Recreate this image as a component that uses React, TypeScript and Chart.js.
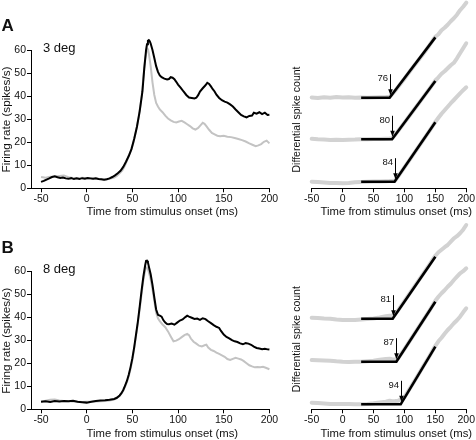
import React, { useEffect, useRef } from "react";
import { Chart, registerables } from "chart.js";
Chart.register(...registerables);

const FONT = "'Liberation Sans', Arial, Helvetica, sans-serif";

// ---------- tick labels ----------
const xTickValues = [-50, 0, 50, 100, 150, 200];
const yTickValues = [0, 10, 20, 30, 40, 50, 60];

// ---------- Panel A, left: firing rate (3 deg) ----------
const blackTimeA = [-50,-47,-44,-41,-38,-35,-32,-29,-26,-23,-20,-17,-14,-11,-8,-5,-2,1,4,7,10,13,16,19,22,25,28,31,34,37,40,43,46,49,52,55,58,61,63,65,66,67,68,69,70,72,74,76,78,80,82,85,88,90,92,94,96,98,100,103,106,109,112,115,118,120,122,124,127,130,132,134,136,138,140,142,145,148,151,154,157,160,163,166,169,172,175,178,181,183,186,189,192,195,198,200];
const blackRateA = [2.8,3.2,3.8,4.3,4.9,5.2,4.8,4.5,4.7,4.3,4.1,4.4,4.0,4.3,4.0,4.4,4.2,4.5,4.3,4.1,4.3,4.0,3.9,3.7,3.9,4.3,4.9,5.6,6.5,7.6,9.3,11.5,14,17,21.5,26.7,33.5,42,52,60,62.5,64,64.3,63.8,62.8,60,56.5,53,50.5,49,48.2,47.6,47.2,47.4,48.2,48,47.3,46.2,45,43.6,42,40.5,39.4,39.2,39,39.3,40.4,42,43.4,44.7,45.8,45.3,44.2,43,42,40.6,39.2,38.2,37.6,37.2,36.4,35.5,34.2,33,31.8,31.2,30.8,31.4,31.6,32.8,32.4,33,32.2,32.8,31.8,31.9];
const greyTimeA = [-50,-45,-40,-35,-30,-25,-20,-15,-10,-5,0,5,10,15,20,25,30,33,36,39,42,45,48,51,54,57,60,62,64,66,67,68,70,72,74,76,78,80,83,86,89,92,95,98,101,104,107,110,113,116,119,122,125,127,129,131,134,137,140,143,146,150,154,158,162,166,170,174,178,182,185,188,191,194,197,200];
const greyRateA = [4.9,4.6,5,5.1,5.3,5.5,4.8,4.5,4.3,4.6,4.4,4.3,4.1,3.9,3.8,4.1,4.7,5.4,6.5,7.8,10,13,16,19.5,25,31,39.5,48,56,60.7,60.5,58.5,53,46,40.5,37,35.5,34.2,33,31.5,30.3,29.5,28.8,28.6,29,29.3,28.6,27.8,27,26,25.5,26.2,27.5,28.4,28,27,25.4,24,23.4,22.8,22.6,22.8,22.4,22.2,21.8,21.4,20.9,20.3,19.5,18.8,18.3,18.6,19.2,20.2,20.7,19.5];

// ---------- Panel B, left: firing rate (8 deg) ----------
const blackTimeB = [-50,-45,-40,-35,-30,-25,-20,-15,-10,-5,0,5,10,15,20,25,30,33,36,38,40,42,44,46,48,50,52,54,56,58,60,62,64,65,66,67,68,70,72,74,76,78,80,82,84,86,88,90,93,96,99,102,105,108,110,112,115,118,121,124,127,130,133,136,139,142,145,147,150,153,156,159,162,165,168,171,174,177,180,183,186,189,192,195,198,200];
const blackRateB = [3.3,3.5,3.2,3.6,3.4,3.6,3.5,3.7,3.3,3.1,2.9,3.3,3.6,3.8,3.9,4.1,4.5,5.0,6.0,7.0,8.4,10.3,12.3,15,18.3,22.2,27,32.5,38,44.5,51.3,57.5,62.5,64.4,64.5,63.7,62,58.6,54,48.5,43.3,41,40.6,40.2,38.6,37.6,37,36.9,37.2,36.7,37.6,38.5,39,40,40.6,40.2,39.7,39.2,39.4,38.8,39.5,39.1,38.2,37.4,36.5,35.8,35.3,34,32.4,31.4,30.8,30,29.5,29.2,28.6,28.2,28.7,28.5,28,27.2,26.6,26.4,26.1,26.3,26,25.9];
const greyTimeB = [-50,-45,-40,-35,-30,-25,-20,-15,-10,-5,0,5,10,15,20,25,30,33,36,38,40,42,44,46,48,50,52,54,56,58,60,62,64,65,66,67,68,70,72,74,76,78,80,83,86,89,92,95,98,101,104,107,110,112,114,117,120,123,126,129,131,133,136,139,142,145,148,151,154,157,160,163,166,169,172,175,178,181,184,187,190,193,196,198,200];
const greyRateB = [3.3,3.7,4.1,4.3,3.8,3.6,3.5,3.4,3.3,3.2,3.3,3.3,3.4,3.5,3.6,3.8,4.2,4.8,5.8,6.8,8,9.8,11.8,14.3,17.5,21.5,26.3,31.8,37.3,43.5,49.9,56,60.3,61.5,61.6,60.8,59.5,56.4,52,47,41.9,39.5,38.2,36.8,35.6,33.8,31.6,29.5,29.8,30.4,31.3,32.2,32.7,32.2,30.7,29.3,28.5,27.6,27.3,27.8,28,26.8,25.8,25.3,24.6,24,23.4,22.8,21.8,21.4,21.9,22.3,22,21.6,20.9,20,19.1,18.6,18.2,18.3,18.2,18.4,18,17.7,17.4];

// ---------- Right panels: differential spike count ----------
const countTime = [-50,-40,-30,-20,-10,0,10,20,30,40,50,60,70,76,80,85,90,100,110,120,130,140,150,155,160,165,170,175,180,185,190,195,200];
const countA1 = [0.3,-0.3,0.4,0,0.6,0.2,0.4,0,0.2,0,0.3,0.4,0.6,1,3.4,7,11,19,27.5,35.5,43.5,52,61,63.5,67.5,70,73,76.5,79.5,83,87.5,91,95];
const countA2 = [0.5,0,-0.3,-0.6,-0.5,-0.8,-0.4,-0.3,0,0,0.2,0.3,0.6,0.8,1.2,4.5,8.5,16.7,25,33.3,41.7,50,58.8,62,65.5,68,71,74,76.5,81,86,91,96];
const countA3 = [0,-0.4,-0.8,-1.2,-1.4,-1.6,-1.2,-0.6,-0.2,0,0.2,0.3,0.5,0.6,0.8,1.2,5.4,14.4,23.4,32.4,41.4,50.4,59.8,64,68,71.5,75,78.5,81.7,85,88.4,91.5,94.4];
const countB1 = [1,0.8,0.3,0,-0.8,-1.3,-1.3,-1.2,-0.8,-0.3,0.3,1.2,2.5,3,3.2,4.6,8.5,17.5,26.5,35.5,44.5,53.5,63,66.5,69,71.5,73.7,77,80.4,82.5,85.4,89,93.7];
const countB2 = [1.7,1.4,1.2,1,0.4,0,-0.2,0,0,0.5,1,2,2.8,3,2.5,2.2,3.5,12.5,22,31.5,41,50.5,61,65,68.5,71.5,75,78,81.7,85,88.4,90.5,93.4];
const countB3 = [1.6,1.2,0.8,0.3,0.2,0.4,0.2,0,0,0.4,1,1.8,2.5,3.5,3,3.2,3.5,7,17,27,37.5,47.5,58.5,63,66.5,70.5,74.3,77.5,81,84,87.6,92,96];

const traceOffsetsA = [90.6, 49, 6.6];
const traceOffsetsB = [90.6, 47.6, 5];
const onsetsA = [76, 80, 84];
const onsetsB = [81, 87, 94];
const fitRiseA = [60.3, 58.3, 59.4];
const fitRiseB = [62, 60, 57.6];
const fitStart = 30;
const fitEnd = 150;

// ---------- helpers ----------
const zip = (xs: number[], ys: number[]) => {
  const n = Math.min(xs.length, ys.length);
  const out: { x: number; y: number }[] = [];
  for (let i = 0; i < n; i++) out.push({ x: xs[i], y: ys[i] });
  return out;
};

type TextItem = { text: string; x: number; y: number; size: number; bold?: boolean; align?: CanvasTextAlign; rotate?: boolean };

const textPlugin = {
  id: "panelText",
  afterDraw(chart: any, _args: any, opts: any) {
    const ctx: CanvasRenderingContext2D = chart.ctx;
    (opts.items || []).forEach((it: TextItem) => {
      ctx.save();
      ctx.fillStyle = "#111";
      ctx.font = `${it.bold ? "bold " : ""}${it.size}px ${FONT}`;
      ctx.textAlign = it.align || "left";
      ctx.textBaseline = "alphabetic";
      ctx.translate(it.x, it.y);
      if (it.rotate) ctx.rotate(-Math.PI / 2);
      ctx.fillText(it.text, 0, 0);
      ctx.restore();
    });
  },
};

const arrowPlugin = {
  id: "onsetArrows",
  afterDatasetsDraw(chart: any, _args: any, opts: any) {
    if (!opts || !opts.onsets) return;
    const ctx: CanvasRenderingContext2D = chart.ctx;
    const xs = chart.scales.x;
    const ys = chart.scales.y;
    opts.onsets.forEach((t: number, i: number) => {
      const x = Math.round(xs.getPixelForValue(t)) + 0.5;
      const yb = ys.getPixelForValue(opts.offsets[i]);
      const tip = yb - 2.5;
      const top = yb - 23.5;
      ctx.save();
      ctx.strokeStyle = "#000";
      ctx.fillStyle = "#000";
      ctx.lineWidth = 1;
      ctx.beginPath();
      ctx.moveTo(x, top);
      ctx.lineTo(x, tip - 4);
      ctx.stroke();
      ctx.beginPath();
      ctx.moveTo(x - 2.3, tip - 6);
      ctx.lineTo(x, tip);
      ctx.lineTo(x + 2.3, tip - 6);
      ctx.closePath();
      ctx.fill();
      ctx.fillStyle = "#111";
      ctx.font = `9.5px ${FONT}`;
      ctx.textAlign = "right";
      ctx.textBaseline = "alphabetic";
      ctx.fillText(String(t), x - 2.5, top + 6.8);
      ctx.restore();
    });
  },
};

const tickFont = { family: FONT, size: 10.5 };
const setTicks = (vals: number[]) => (scale: any) => {
  scale.ticks = vals.map((v) => ({ value: v }));
};

function leftConfig(black: { x: number; y: number }[], grey: { x: number; y: number }[], texts: TextItem[], axisH: number): any {
  return {
    type: "line",
    data: {
      datasets: [
        // first dataset is drawn on top in Chart.js
        { data: black, borderColor: "#000000", borderWidth: 2, pointRadius: 0, tension: 0, clip: false },
        { data: grey, borderColor: "#c3c3c3", borderWidth: 2, pointRadius: 0, tension: 0, clip: false },
      ],
    },
    options: {
      animation: false,
      responsive: false,
      maintainAspectRatio: false,
      events: [],
      layout: { padding: { top: 50, right: 10.6, left: 0, bottom: 0 } },
      plugins: { legend: { display: false }, tooltip: { enabled: false }, panelText: { items: texts } },
      scales: {
        x: {
          type: "linear",
          min: -61,
          max: 200,
          afterBuildTicks: setTicks(xTickValues),
          afterFit: (s: any) => { s.height = axisH; },
          grid: { drawOnChartArea: false, drawTicks: true, tickLength: 4, color: "#000" },
          border: { display: true, color: "#000", width: 1 },
          ticks: { font: tickFont, color: "#111", padding: 1, maxRotation: 0, autoSkip: false },
        },
        y: {
          type: "linear",
          min: 0,
          max: 60,
          afterBuildTicks: setTicks(yTickValues),
          afterFit: (s: any) => { s.width = 31; },
          grid: { drawOnChartArea: false, drawTicks: true, tickLength: 4, color: "#000" },
          border: { display: true, color: "#000", width: 1 },
          ticks: { font: tickFont, color: "#111", padding: 1, autoSkip: false },
        },
      },
    },
    plugins: [textPlugin],
  };
}

function rightConfig(counts: number[][], offsets: number[], onsets: number[], rises: number[], texts: TextItem[], axisH: number): any {
  const greySets = counts.map((c, i) => ({
    data: zip(countTime, c.map((v) => v + offsets[i])),
    borderColor: "#d2d2d2",
    borderWidth: 4,
    borderCapStyle: "round",
    borderJoinStyle: "round",
    pointRadius: 0,
    tension: 0,
    clip: false,
  }));
  const fitSets = onsets.map((t, i) => ({
    data: [
      { x: fitStart, y: offsets[i] },
      { x: t, y: offsets[i] },
      { x: fitEnd, y: offsets[i] + rises[i] },
    ],
    borderColor: "#000000",
    borderWidth: 2.6,
    pointRadius: 0,
    tension: 0,
    clip: false,
  }));
  return {
    type: "line",
    // fits listed first so they are drawn on top of the grey traces
    data: { datasets: [...fitSets, ...greySets] },
    options: {
      animation: false,
      responsive: false,
      maintainAspectRatio: false,
      events: [],
      layout: { padding: { top: 50, right: 9.3, left: 31.7, bottom: 0 } },
      plugins: {
        legend: { display: false },
        tooltip: { enabled: false },
        panelText: { items: texts },
        onsetArrows: { onsets, offsets },
      },
      scales: {
        x: {
          type: "linear",
          min: -50,
          max: 200,
          afterBuildTicks: setTicks(xTickValues),
          afterFit: (s: any) => { s.height = axisH; },
          grid: { drawOnChartArea: false, drawTicks: true, tickLength: 4, color: "#000" },
          border: { display: true, color: "#000", width: 1 },
          ticks: { font: tickFont, color: "#111", padding: 1, maxRotation: 0, autoSkip: false },
        },
        y: { type: "linear", display: false, min: 0, max: 138.3 },
      },
    },
    plugins: [textPlugin, arrowPlugin],
  };
}

export default function App() {
  const a1 = useRef<HTMLCanvasElement>(null);
  const a2 = useRef<HTMLCanvasElement>(null);
  const b1 = useRef<HTMLCanvasElement>(null);
  const b2 = useRef<HTMLCanvasElement>(null);

  useEffect(() => {
    const H = 219;
    const axisH = H - 188.3;
    const xTitle = "Time from stimulus onset (ms)";
    const charts: Chart[] = [];
    charts.push(
      new Chart(a1.current!, leftConfig(zip(blackTimeA, blackRateA), zip(greyTimeA, greyRateA), [
        { text: "A", x: 1.5, y: 30.7, size: 17, bold: true },
        { text: "3 deg", x: 43, y: 51.7, size: 13 },
        { text: "Firing rate (spikes/s)", x: 10.4, y: 119.5, size: 11.7, align: "center", rotate: true },
        { text: xTitle, x: 162.3, y: 215, size: 11.3, align: "center" },
      ], axisH))
    );
    charts.push(
      new Chart(a2.current!, rightConfig([countA1, countA2, countA3], traceOffsetsA, onsetsA, fitRiseA, [
        { text: "Differential spike count", x: 20.3, y: 119.5, size: 10.5, align: "center", rotate: true },
        { text: xTitle, x: 116.3, y: 215, size: 11.3, align: "center" },
      ], axisH))
    );
    charts.push(
      new Chart(b1.current!, leftConfig(zip(blackTimeB, blackRateB), zip(greyTimeB, greyRateB), [
        { text: "B", x: 1.5, y: 31.7, size: 17, bold: true },
        { text: "8 deg", x: 43, y: 52.3, size: 13 },
        { text: "Firing rate (spikes/s)", x: 10.4, y: 119.8, size: 11.7, align: "center", rotate: true },
        { text: xTitle, x: 162.3, y: 216.3, size: 11.3, align: "center" },
      ], axisH))
    );
    charts.push(
      new Chart(b2.current!, rightConfig([countB1, countB2, countB3], traceOffsetsB, onsetsB, fitRiseB, [
        { text: "Differential spike count", x: 20.3, y: 118.2, size: 10.5, align: "center", rotate: true },
        { text: xTitle, x: 116.3, y: 216.3, size: 11.3, align: "center" },
      ], axisH))
    );
    return () => charts.forEach((c) => c.destroy());
  }, []);

  const abs = (left: number, top: number, w: number, h: number): React.CSSProperties => ({
    position: "absolute", left, top, width: w, height: h, display: "block",
  });

  return (
    <div style={{ position: "fixed", left: 0, top: 0, width: 476, height: 440, background: "#fff", overflow: "hidden" }}>
      <canvas ref={a1} width={280} height={219} style={abs(0, 0, 280, 219)} />
      <canvas ref={a2} width={196} height={219} style={abs(280, 0, 196, 219)} />
      <canvas ref={b1} width={280} height={219} style={abs(0, 221, 280, 219)} />
      <canvas ref={b2} width={196} height={219} style={abs(280, 221, 196, 219)} />
    </div>
  );
}
